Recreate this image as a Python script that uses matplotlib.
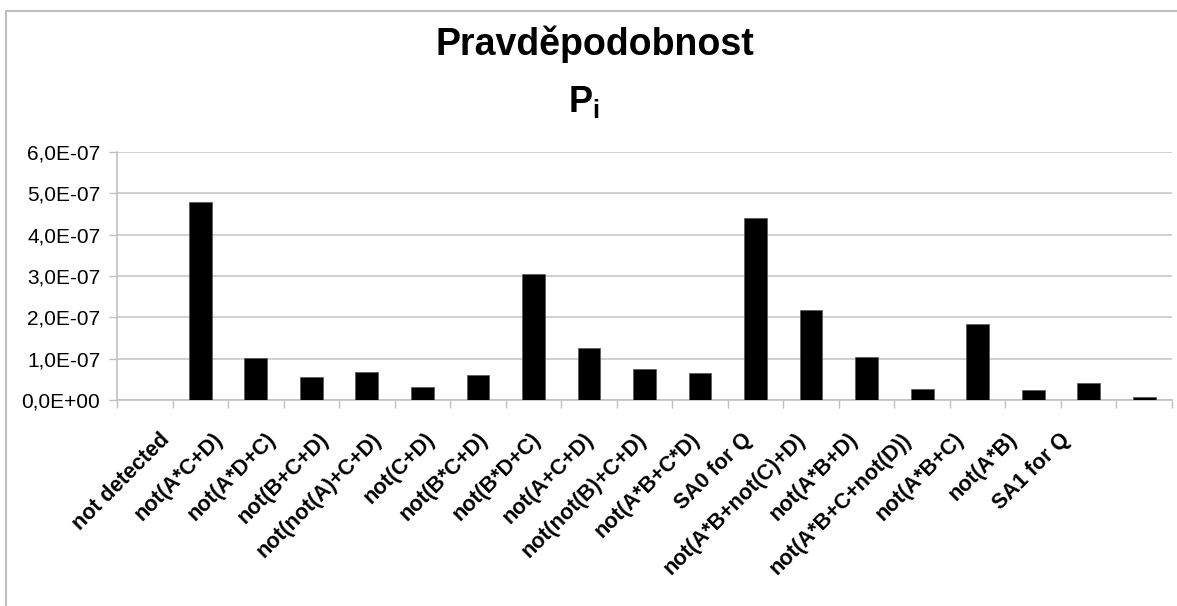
import matplotlib.pyplot as plt
import numpy as np
from matplotlib.patches import Rectangle

plt.rcParams["font.family"] = ["Liberation Sans", "DejaVu Sans"]
plt.rcParams["mathtext.fontset"] = "custom"
plt.rcParams["mathtext.rm"] = "Liberation Sans:bold"
plt.rcParams["mathtext.bf"] = "Liberation Sans:bold"
plt.rcParams["mathtext.it"] = "Liberation Sans:bold"

labels = ["not detected", "not(A*C+D)", "not(A*D+C)", "not(B+C+D)",
          "not(not(A)+C+D)", "not(C+D)", "not(B*C+D)", "not(B*D+C)",
          "not(A+C+D)", "not(not(B)+C+D)", "not(A*B+C*D)", "SA0 for Q",
          "not(A*B+not(C)+D)", "not(A*B+D)", "not(A*B+C+not(D))",
          "not(A*B+C)", "not(A*B)", "SA1 for Q"]
values = [4.78e-7, 1.02e-7, 0.56e-7, 0.67e-7, 0.31e-7, 0.60e-7, 3.05e-7,
          1.27e-7, 0.75e-7, 0.65e-7, 4.40e-7, 2.18e-7, 1.05e-7, 0.27e-7,
          1.84e-7, 0.23e-7, 0.40e-7, 0.07e-7]
yticks = [0, 1e-7, 2e-7, 3e-7, 4e-7, 5e-7, 6e-7]

fig = plt.figure(figsize=(11.77, 6.06), dpi=100)
ax = fig.add_axes([117 / 1177, 1 - 400 / 606, 1055 / 1177, 248 / 606])

# first slot is empty, bars start one slot in
x = np.arange(1, len(values) + 1)
ax.bar(x, values, width=0.41, color="black", edgecolor="#555555", linewidth=0.5, zorder=3)

ax.set_xlim(-0.5, len(values) + 0.5)
ax.set_ylim(0, 6e-7)
ax.set_yticks(yticks)
ax.set_yticklabels([f"{v:.1E}".replace(".", ",") for v in yticks])
ax.yaxis.grid(True, color="#c8c8c8", linewidth=1.2, zorder=0)

# boundary tick marks, labels on separate minor ticks
ax.set_xticks(np.arange(-0.5, len(values) + 1, 1))
ax.set_xticklabels([])
label_pos = np.linspace(0.4, 16.6, len(labels))
ax.set_xticks(label_pos, minor=True)
ax.set_xticklabels(labels, minor=True, rotation=45, ha="right", va="center",
                   rotation_mode="anchor", fontweight="bold", fontsize=15.5)
ax.tick_params(axis="x", which="major", length=6, color="#c0c0c0", width=1)
ax.tick_params(axis="x", which="minor", length=0, pad=26)
ax.tick_params(axis="y", length=6, color="#c0c0c0", width=1, labelsize=15, pad=6)

for s in ["top", "right"]:
    ax.spines[s].set_visible(False)
ax.spines["left"].set_color("#c0c0c0")
ax.spines["bottom"].set_color("#c0c0c0")
ax.spines["left"].set_linewidth(1.2)
ax.spines["bottom"].set_linewidth(1.2)

fig.text(0.505, 1 - 55 / 606, "Pravděpodobnost", ha="center", va="baseline",
         fontsize=27, fontweight="bold")
fig.text(0.496, 1 - 112 / 606, r"$\mathrm{P_i}$", ha="center", va="baseline",
         fontsize=26)

# outer chart border (only top and left visible)
fig.patches.append(Rectangle((6 / 1177, -0.1), 1.2, 1 - 11 / 606 + 0.1,
                             transform=fig.transFigure, fill=False,
                             edgecolor="#c0c0c0", linewidth=1.5))

plt.savefig("out.png", dpi=100)
